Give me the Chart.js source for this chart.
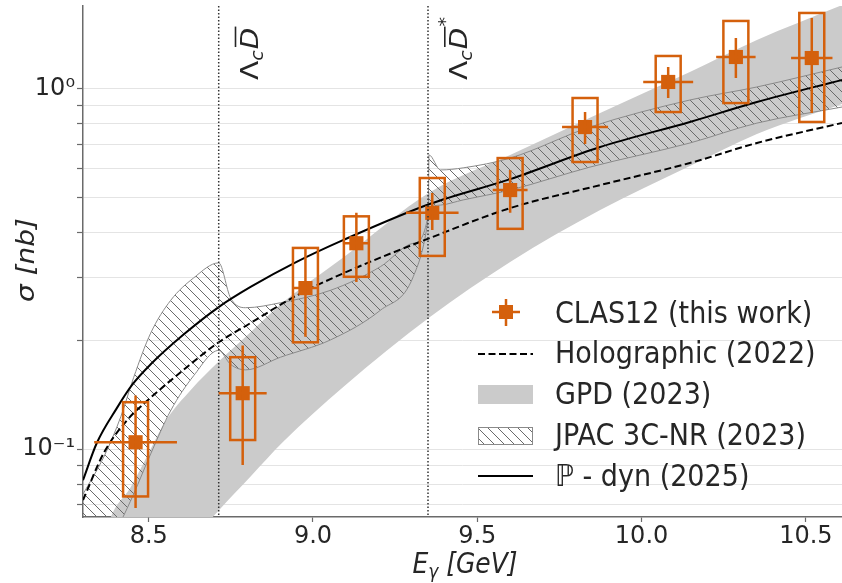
<!DOCTYPE html>
<html>
<head>
<meta charset="utf-8">
<script src="https://cdn.jsdelivr.net/npm/chart.js@4.4.1/dist/chart.umd.min.js"></script>
<style>
  body { margin: 0; background: #fff; }
  #wrap { width: 842px; height: 583px; }
</style>
</head>
<body>
<div id="wrap"><canvas id="xsec" width="842" height="583"></canvas></div>
<script>
// CLAS12 points (E in GeV, sigma in nb)
var energy = [8.46, 8.786, 8.977, 9.132, 9.363, 9.6, 9.828, 10.081, 10.287, 10.518];
var sigma = [0.1045, 0.143, 0.28, 0.373, 0.453, 0.524, 0.784, 1.046, 1.227, 1.219];
var energyErr = [0.126, 0.073, 0.04, 0.041, 0.08, 0.053, 0.07, 0.076, 0.06, 0.063];
var statLow = [0.0686, 0.0903, 0.205, 0.291, 0.406, 0.453, 0.703, 0.944, 1.073, 0.858];
var statHigh = [0.141, 0.194, 0.362, 0.453, 0.514, 0.596, 0.863, 1.151, 1.386, 1.575];
var systLow = [0.0739, 0.106, 0.198, 0.301, 0.344, 0.409, 0.627, 0.863, 0.914, 0.81];
var systHigh = [0.135, 0.18, 0.362, 0.443, 0.566, 0.643, 0.944, 1.235, 1.545, 1.626];

// Holographic (2022)
var holoE = [8.3, 8.363, 8.433, 8.506, 8.606, 8.713, 8.81, 8.95, 9.093, 9.357, 9.6, 9.874, 10.147, 10.351, 10.61];
var holoSigma = [0.0722, 0.0975, 0.12, 0.139, 0.166, 0.198, 0.224, 0.267, 0.308, 0.386, 0.467, 0.541, 0.623, 0.708, 0.805];

// P - dyn (2025)
var pdynE = [8.3, 8.342, 8.403, 8.45, 8.506, 8.606, 8.713, 8.81, 8.95, 9.093, 9.357, 9.6, 9.874, 10.147, 10.351, 10.61];
var pdynSigma = [0.082, 0.104, 0.13, 0.151, 0.172, 0.208, 0.248, 0.282, 0.331, 0.381, 0.48, 0.562, 0.69, 0.81, 0.92, 1.06];

// GPD (2023) band
var gpdE = [8.35, 8.385, 8.445, 8.497, 8.552, 8.628, 8.713, 8.81, 8.91, 9.093, 9.357, 9.6, 9.874, 10.147, 10.351, 10.61];
var gpdHigh = [0.05, 0.0648, 0.0784, 0.0963, 0.12, 0.146, 0.175, 0.211, 0.256, 0.341, 0.518, 0.656, 0.858, 1.115, 1.368, 1.71];
var gpdLow = [0.03, 0.032, 0.036, 0.04, 0.045, 0.055, 0.0676, 0.084, 0.105, 0.149, 0.233, 0.331, 0.461, 0.611, 0.75, 0.908];

// JPAC 3C-NR (2023) band
var jpacE = [8.3, 8.363, 8.415, 8.454, 8.506, 8.567, 8.637, 8.713, 8.749, 8.795, 8.901, 9.053, 9.205, 9.305, 9.351, 9.353, 9.388, 9.457, 9.6, 9.843, 10.147, 10.351, 10.61];
var jpacHigh = [0.075, 0.095, 0.123, 0.158, 0.21, 0.259, 0.299, 0.329, 0.263, 0.247, 0.255, 0.276, 0.321, 0.373, 0.45, 0.656, 0.596, 0.604, 0.643, 0.784, 0.932, 1.013, 1.151];
var jpacLow = [0.037, 0.052, 0.063, 0.075, 0.097, 0.128, 0.16, 0.188, 0.172, 0.166, 0.18, 0.201, 0.243, 0.301, 0.44, 0.46, 0.476, 0.492, 0.524, 0.607, 0.708, 0.804, 0.891];

var thresholds = [8.713, 9.35];
var xTickValues = [8.5, 9.0, 9.5, 10.0, 10.5];
var yTickValues = [0.07, 0.08, 0.09, 0.1, 0.2, 0.3, 0.4, 0.5, 0.6, 0.7, 0.8, 0.9, 1.0];
var legendLabels = ["CLAS12 (this work)", "Holographic (2022)", "GPD (2023)", "JPAC 3C-NR (2023)", "\u2119 - dyn (2025)"];

var orange = "#d4600c";
var gray = "#cbcbcb";
var textColor = "#262626";
var font = '"DejaVu Sans", sans-serif';
var boxHalf = 0.038;

var canvas = document.getElementById("xsec");
var ctx = canvas.getContext("2d");

function makeHatch() {
  var c = document.createElement("canvas");
  c.width = 10;
  c.height = 10;
  var g = c.getContext("2d");
  g.strokeStyle = "#6a6a6a";
  g.lineWidth = 1;
  g.beginPath();
  g.moveTo(-1, -1);
  g.lineTo(11, 11);
  g.moveTo(-1, 9);
  g.lineTo(1, 11);
  g.moveTo(9, -1);
  g.lineTo(11, 1);
  g.stroke();
  return ctx.createPattern(c, "repeat");
}
var hatch = makeHatch();

function pts(xs, ys) {
  return xs.map(function (x, i) {
    return { x: x, y: ys[i] };
  });
}

function lineSet(label, xs, ys, extra) {
  var ds = {
    label: label,
    data: pts(xs, ys),
    showLine: true,
    pointRadius: 0,
    borderWidth: 2,
    borderColor: "#000",
    fill: false,
    cubicInterpolationMode: "monotone",
  };
  for (var k in extra) ds[k] = extra[k];
  return ds;
}

// stretched text (the figure is a bit taller than wide)
function stretchText(c, txt, x, y, sy) {
  c.save();
  c.translate(x, y);
  c.scale(1, sy);
  c.fillText(txt, 0, 0);
  c.restore();
}

function drawThreshold(c, px, star) {
  c.save();
  c.translate(px + 39, 80);
  c.rotate(-Math.PI / 2);
  c.scale(1.12, 1);
  c.fillStyle = textColor;
  c.textBaseline = "alphabetic";
  c.font = "25px " + font;
  c.fillText("\u039B", 0, 0);
  var x = c.measureText("\u039B").width;
  c.font = "italic 17px " + font;
  c.fillText("c", x, 5);
  x += c.measureText("c").width + 1;
  c.font = "italic 25px " + font;
  c.fillText("D", x, 0);
  var wd = c.measureText("D").width;
  c.fillRect(x + 2, -23, wd - 1, 1.6);
  if (star) {
    c.font = "17px " + font;
    c.fillText("*", x + wd + 1, -16);
  }
  c.restore();
}

function drawLegend(c) {
  var hx = 478, hw = 55, tx = 555;
  c.save();
  // CLAS12 marker
  c.strokeStyle = orange;
  c.fillStyle = orange;
  c.lineWidth = 2.5;
  c.beginPath();
  c.moveTo(492, 312);
  c.lineTo(520, 312);
  c.moveTo(506, 299);
  c.lineTo(506, 326);
  c.stroke();
  c.fillRect(499, 305, 14, 14);
  // Holographic
  c.strokeStyle = "#000";
  c.lineWidth = 2;
  c.setLineDash([7, 3.5]);
  c.beginPath();
  c.moveTo(hx, 354);
  c.lineTo(hx + hw, 354);
  c.stroke();
  c.setLineDash([]);
  // GPD
  c.fillStyle = gray;
  c.fillRect(hx, 385, hw, 19);
  // JPAC
  c.fillStyle = hatch;
  c.fillRect(hx, 427, hw, 18);
  c.strokeStyle = "#8a8a8a";
  c.lineWidth = 1;
  c.strokeRect(hx + 0.5, 427.5, hw - 1, 17);
  // P-dyn
  c.strokeStyle = "#000";
  c.lineWidth = 2;
  c.beginPath();
  c.moveTo(hx, 476);
  c.lineTo(hx + hw, 476);
  c.stroke();
  // labels
  c.fillStyle = textColor;
  c.font = "27px " + font;
  c.textBaseline = "alphabetic";
  var base = [323, 363, 404, 445, 486];
  legendLabels.forEach(function (t, i) {
    stretchText(c, t, tx, base[i], 1.12);
  });
  c.restore();
}

function drawTitles(c) {
  c.save();
  c.fillStyle = textColor;
  c.textBaseline = "alphabetic";
  // y title
  c.save();
  c.translate(34, 260);
  c.rotate(-Math.PI / 2);
  c.scale(1.12, 1);
  c.font = "italic 25px " + font;
  c.textAlign = "center";
  c.fillText("\u03C3 [nb]", 0, 0);
  c.restore();
  // x title
  c.font = "italic 25px " + font;
  var wE = c.measureText("E").width;
  var rest = " [GeV]";
  var wR = c.measureText(rest).width;
  c.font = "italic 17px " + font;
  var wG = c.measureText("\u03B3").width;
  var x0 = 465 - (wE + wG + wR) / 2;
  c.font = "italic 25px " + font;
  stretchText(c, "E", x0, 573, 1.12);
  c.font = "italic 17px " + font;
  stretchText(c, "\u03B3", x0 + wE, 578, 1.12);
  c.font = "italic 25px " + font;
  stretchText(c, rest, x0 + wE + wG, 573, 1.12);
  c.restore();
}

var overlay = {
  id: "overlay",
  afterDatasetsDraw: function (chart) {
    var c = chart.ctx, xs = chart.scales.x, ys = chart.scales.y, area = chart.chartArea;
    c.save();
    c.beginPath();
    c.rect(area.left, area.top, area.right - area.left, area.bottom - area.top);
    c.clip();
    // threshold lines
    c.strokeStyle = "#333";
    c.lineWidth = 1.5;
    c.setLineDash([1.5, 2]);
    thresholds.forEach(function (t) {
      var px = xs.getPixelForValue(t);
      c.beginPath();
      c.moveTo(px, area.top);
      c.lineTo(px, area.bottom);
      c.stroke();
    });
    c.setLineDash([]);
    // error bars and systematic boxes
    c.strokeStyle = orange;
    c.lineWidth = 2.5;
    energy.forEach(function (e, i) {
      var px = xs.getPixelForValue(e);
      var py = ys.getPixelForValue(sigma[i]);
      c.beginPath();
      c.moveTo(xs.getPixelForValue(e - energyErr[i]), py);
      c.lineTo(xs.getPixelForValue(e + energyErr[i]), py);
      c.moveTo(px, ys.getPixelForValue(statHigh[i]));
      c.lineTo(px, ys.getPixelForValue(statLow[i]));
      c.stroke();
      var bx0 = xs.getPixelForValue(e - boxHalf);
      var bx1 = xs.getPixelForValue(e + boxHalf);
      var by0 = ys.getPixelForValue(systHigh[i]);
      var by1 = ys.getPixelForValue(systLow[i]);
      c.strokeRect(bx0, by0, bx1 - bx0, by1 - by0);
    });
    c.restore();
    thresholds.forEach(function (t, i) {
      drawThreshold(c, xs.getPixelForValue(t), i === 1);
    });
  },
  afterDraw: function (chart) {
    drawLegend(chart.ctx);
    drawTitles(chart.ctx);
  },
};

var chart = new Chart(ctx, {
  type: "line",
  data: {
    datasets: [
      {
        label: legendLabels[0],
        data: pts(energy, sigma),
        showLine: false,
        pointStyle: "rect",
        pointRadius: 10,
        pointBackgroundColor: orange,
        pointBorderWidth: 0,
        order: 0,
      },
      lineSet(legendLabels[4], pdynE, pdynSigma, { order: 1 }),
      lineSet(legendLabels[1], holoE, holoSigma, { order: 2, borderDash: [7, 3.5] }),
      lineSet("JPAC low", jpacE, jpacLow, { order: 3, borderWidth: 1, borderColor: "#8a8a8a" }),
      lineSet(legendLabels[3], jpacE, jpacHigh, {
        order: 3,
        borderWidth: 1,
        borderColor: "#8a8a8a",
        fill: "-1",
        backgroundColor: hatch,
      }),
      lineSet("GPD low", gpdE, gpdLow, { order: 5, borderColor: "rgba(0,0,0,0)" }),
      lineSet(legendLabels[2], gpdE, gpdHigh, {
        order: 5,
        borderColor: "rgba(0,0,0,0)",
        fill: "-1",
        backgroundColor: gray,
      }),
    ],
  },
  options: {
    responsive: false,
    animation: false,
    events: [],
    layout: { autoPadding: false, padding: { top: 6, left: 0, right: 0, bottom: 0 } },
    plugins: { legend: { display: false }, tooltip: { enabled: false } },
    scales: {
      x: {
        type: "linear",
        min: 8.3,
        max: 10.61,
        afterFit: function (s) {
          s.height = 66;
          s.paddingLeft = 0;
          s.paddingRight = 0;
        },
        afterBuildTicks: function (s) {
          s.ticks = xTickValues.map(function (v) {
            return { value: v };
          });
        },
        ticks: {
          autoSkip: false,
          maxRotation: 0,
          padding: 0,
          color: textColor,
          font: { family: font, size: 24 },
          callback: function (v) {
            return Number(v).toFixed(1);
          },
        },
        grid: { drawOnChartArea: false, tickLength: 5, tickColor: "#6a6a6a", tickWidth: 1.2 },
        border: { color: "#6a6a6a", width: 1.5 },
      },
      y: {
        type: "logarithmic",
        min: 0.0648,
        max: 1.7,
        afterFit: function (s) {
          s.width = 83;
          s.paddingTop = 0;
          s.paddingBottom = 0;
        },
        afterBuildTicks: function (s) {
          s.ticks = yTickValues.map(function (v) {
            return { value: v, major: v === 0.1 || v === 1 };
          });
        },
        ticks: {
          autoSkip: false,
          padding: 2,
          color: textColor,
          font: { family: font, size: 24 },
          callback: function (v) {
            if (v === 1) return "10\u2070";
            if (Math.abs(v - 0.1) < 1e-9) return "10\u207B\u00B9";
            return "";
          },
        },
        grid: { color: "#e4e4e4", lineWidth: 1, tickLength: 6, tickColor: "#6a6a6a", tickWidth: 1.2 },
        border: { color: "#6a6a6a", width: 1.5 },
      },
    },
  },
  plugins: [overlay],
});
</script>
</body>
</html>
